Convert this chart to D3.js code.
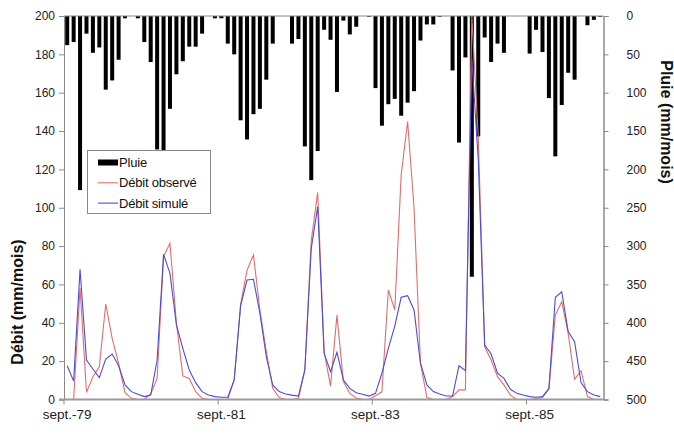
<!DOCTYPE html>
<html><head><meta charset="utf-8">
<script src="https://cdn.jsdelivr.net/npm/d3@7"></script>
<style>body{margin:0;background:#fff}svg{display:block;font-family:Arial,"Liberation Sans",sans-serif}</style>
</head><body><svg id="c" width="674" height="439"></svg>
<script>
const months = d3.timeMonth.range(new Date(1979, 8, 1), new Date(1986, 8, 1));
const xTickLabels = ["sept.-79", "sept.-81", "sept.-83", "sept.-85"];
const xTickIndex = [0, 24, 48, 72];
const leftTicks = [0, 20, 40, 60, 80, 100, 120, 140, 160, 180, 200];
const rightTicks = [0, 50, 100, 150, 200, 250, 300, 350, 400, 450, 500];
const pluie = [38,34,227,23,48,41,96,84,57,3, 0,3,34,60,174,182,121,76,59,40, 40,23,0,3,3,36,50,136,161,128, 121,83,36,0,0,36,30,170,214,176, 18,31,99,6,24,14,0,1,94,143, 115,108,130,113,98,32,11,11,1,0, 71,165,54,340,157,28,60,36,48,0, 0,0,49,18,47,107,183,116,74,83, 0,12,5,1];
const debitObs = [0,0,58,3.7,11.9,17.1,49.8,31.9,18.9,3.5, 0.6,0,0,2.9,11,74.5,81.5,40,12.3,11, 4.1,0.6,0,0,0,0,10.2,49.8,67.5,75.4, 46.7,24.9,5.8,1,0,0,0.5,15.4,83,108, 25,7,44,9.3,3.2,0.8,0,0,2,4, 57.1,46.7,117,145,100,18.9,1,0,0,0, 1.5,5,5,200,137,27.5,20.6,11.9,7.6,2.3, 0,0,0,0.5,1,5.3,44,51,34.5,10.5, 15,1.5,0,null];
const debitSim = [17.6,9.6,67.9,20.6,15.9,11.4,21.1,23.7,17.6,7.6, 4.1,2.7,1.5,2.3,20.6,75.7,65.8,38.9,26.7,15.4, 8.8,4.1,2.3,1.5,1.2,1.2,10.2,48.8,62.3,62.7, 45,22.3,7.6,4.1,2.9,2.3,1.8,15.4,78.8,100.5, 24,14.5,24.6,10.2,5.8,3.5,2.7,1.8,3.2,13.7, 26.7,38.3,53.3,54.1,46.7,18.9,7.6,4.1,2.9,1.8, 1.8,17.6,15,178,125,28.4,23.7,13.7,11,5.3, 3.2,2.3,1.5,1.2,1.5,5.8,53.3,56.2,35.4,30.2, 8.8,4.1,2.3,1.5];

const L = 64, R = 603.5, T = 16, B = 399.5;
const svg = d3.select("#c");
const x = d3.scaleBand().domain(d3.range(months.length)).range([L, R]).padding(0);
const bw = x.bandwidth();
const cx = i => x(i) + bw / 2;
const yL = d3.scaleLinear().domain([0, 200]).range([B, T]);
const yR = d3.scaleLinear().domain([0, 500]).range([T, B]);

svg.append("defs").append("clipPath").attr("id", "clip")
  .append("rect").attr("x", L).attr("y", T).attr("width", R - L).attr("height", B - T);

// bars (rain)
const barW = 4;
svg.append("g").selectAll("rect").data(pluie).join("rect")
  .attr("x", (d, i) => cx(i) - barW / 2).attr("y", yR(0))
  .attr("width", barW).attr("height", d => yR(d) - yR(0))
  .attr("fill", "#000");

// lines
const line = d3.line().defined(d => d != null).x((d, i) => cx(i)).y(d => yL(d));
const g = svg.append("g").attr("clip-path", "url(#clip)");
g.append("path").datum(debitObs).attr("d", line).attr("fill", "none").attr("stroke", "#e46c6c").attr("stroke-width", 1.1);
g.append("path").datum(debitSim).attr("d", line).attr("fill", "none").attr("stroke", "#4c4cd6").attr("stroke-width", 1.1);

// axes
const axColor = "#8a8a8a";
const la = svg.append("g").attr("transform", `translate(${L},0)`)
  .call(d3.axisLeft(yL).tickValues(leftTicks).tickSize(5).tickPadding(4));
const ra = svg.append("g").attr("transform", `translate(${R},0)`)
  .call(d3.axisRight(yR).tickValues(rightTicks).tickSize(5).tickPadding(18));
[la, ra].forEach(a => {
  a.select(".domain").attr("stroke", axColor);
  a.selectAll(".tick line").attr("stroke", axColor);
  a.selectAll("text").attr("font-size", 12).attr("fill", "#222").attr("font-family", "Arial, 'Liberation Sans', sans-serif");
});
ra.select(".domain").attr("stroke", "#555");
ra.selectAll("text").attr("x", 23).attr("text-anchor", "start");

// top line
svg.append("line").attr("x1", L).attr("x2", R).attr("y1", T).attr("y2", T).attr("stroke", axColor).attr("stroke-width", 1);

// bottom axis
const xa = svg.append("g").attr("transform", `translate(0,${B})`);
xa.append("line").attr("x1", L - 5).attr("x2", R).attr("stroke", "#9a9a9a").attr("stroke-width", 2);
xa.selectAll("line.tk").data(xTickIndex).join("line").attr("class", "tk")
  .attr("x1", d => x(d)).attr("x2", d => x(d)).attr("y1", 0).attr("y2", 5).attr("stroke", axColor);
xa.selectAll("text").data(xTickIndex).join("text")
  .attr("x", d => cx(d)).attr("y", 19).attr("text-anchor", "middle")
  .attr("font-size", 13.5).attr("fill", "#222").text((d, i) => xTickLabels[i]);

// axis titles
svg.append("text").attr("transform", `translate(23,302) rotate(-90)`).attr("text-anchor", "middle")
  .attr("font-size", 16).attr("font-weight", "bold").attr("fill", "#111").text("Débit (mm/mois)");
svg.append("text").attr("transform", `translate(661,122) rotate(90)`).attr("text-anchor", "middle")
  .attr("font-size", 16).attr("font-weight", "bold").attr("fill", "#111").text("Pluie (mm/mois)");

// legend
const lg = svg.append("g");
lg.append("rect").attr("x", 87.5).attr("y", 150.5).attr("width", 123).attr("height", 63)
  .attr("fill", "#fff").attr("stroke", "#888");
const items = [
  {name: "Pluie", type: "bar", color: "#000"},
  {name: "Débit observé", type: "line", color: "#e46c6c"},
  {name: "Débit simulé", type: "line", color: "#4c4cd6"}
];
items.forEach((it, k) => {
  const yy = 162.5 + k * 20.3;
  if (it.type === "bar") lg.append("rect").attr("x", 98).attr("y", yy - 3).attr("width", 20).attr("height", 6).attr("fill", it.color);
  else lg.append("line").attr("x1", 98).attr("x2", 118).attr("y1", yy).attr("y2", yy).attr("stroke", it.color).attr("stroke-width", 1.1);
  lg.append("text").attr("x", 119).attr("y", yy + 4.6).attr("font-size", 13).attr("fill", "#111")
    .attr("letter-spacing", -0.2).text(it.name);
});
</script></body></html>
